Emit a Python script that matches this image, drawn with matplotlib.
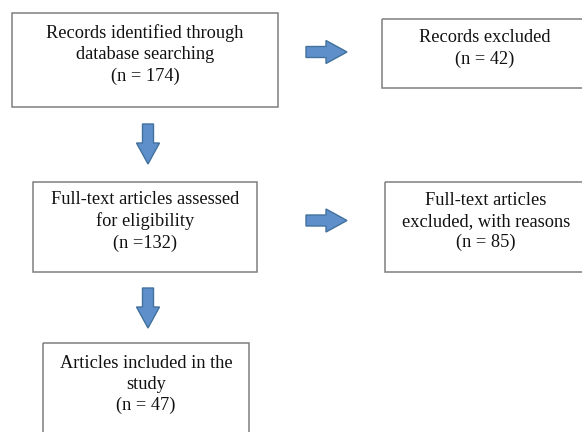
import matplotlib.pyplot as plt
from matplotlib.patches import Rectangle, Polygon

plt.rcParams['font.family'] = ['Liberation Serif', 'DejaVu Serif']

# flowchart content
labels = [
    "Records identified through\ndatabase searching\n(n = 174)",
    "Records excluded\n(n = 42)",
    "Full-text articles assessed\nfor eligibility\n(n =132)",
    "Full-text articles\nexcluded, with reasons\n(n = 85)",
    "Articles included in the\nstudy\n(n = 47)",
]
# boxes in pixel units: x0, y0, x1, y1
boxes = [
    (12, 13, 278, 107),
    (382, 19, 588, 88),
    (33, 182, 257, 272),
    (385, 182, 587, 272),
    (43, 343, 249, 440),
]
text_y = [54.5, 48.5, 221.5, 221.5, 384.5]

# arrows: tail centre points
right_arrows = [(306, 52), (306, 220.5)]
down_arrows = [(148, 124), (148, 288)]

fig = plt.figure(figsize=(5.82, 4.32), dpi=100)
ax = fig.add_axes([0, 0, 1, 1])
ax.set_xlim(0, 582)
ax.set_ylim(432, 0)
ax.axis('off')

for (x0, y0, x1, y1), lab, ty in zip(boxes, labels, text_y):
    ax.add_patch(Rectangle((x0, y0), x1 - x0, y1 - y0, fill=False,
                           edgecolor='#7f7f7f', lw=1.1))
    ax.text((x0 + x1) / 2, ty, lab, ha='center', va='center',
            fontsize=13.2, linespacing=1.32, color='#111111')

fc = '#5e8fcb'
ec = '#41719c'

for x, y in right_arrows:
    pts = [(x, y - 5.5), (x + 20, y - 5.5), (x + 20, y - 11.5), (x + 41, y),
           (x + 20, y + 11.5), (x + 20, y + 5.5), (x, y + 5.5)]
    ax.add_patch(Polygon(pts, closed=True, facecolor=fc, edgecolor=ec, lw=1))

for x, y in down_arrows:
    pts = [(x - 5.5, y), (x + 5.5, y), (x + 5.5, y + 19), (x + 11.5, y + 19),
           (x, y + 40), (x - 11.5, y + 19), (x - 5.5, y + 19)]
    ax.add_patch(Polygon(pts, closed=True, facecolor=fc, edgecolor=ec, lw=1))

fig.savefig('out.png', dpi=100)
